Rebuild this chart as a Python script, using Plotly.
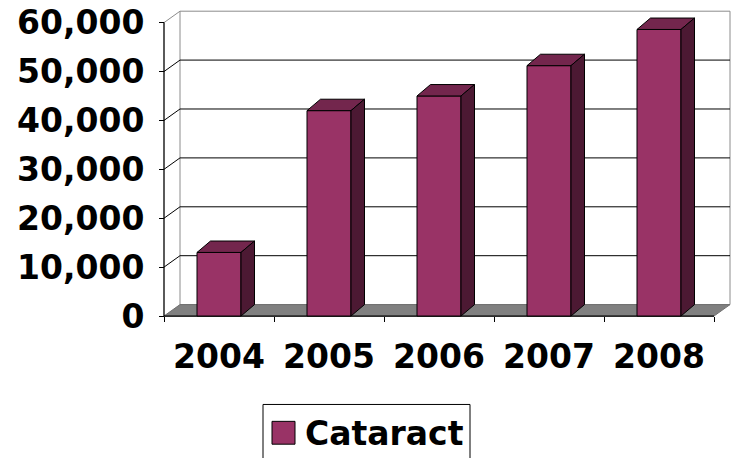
import plotly.graph_objects as go

# ---- data ----
years = ["2004", "2005", "2006", "2007", "2008"]
cataract = [13000, 42000, 45000, 51200, 58600]
y_ticks = [0, 10000, 20000, 30000, 40000, 50000, 60000]
series_name = "Cataract"

# ---- styling / geometry ----
W, H = 734, 458
FONT = "DejaVu Sans"
FS = 33
FRONT = "#993366"
TOP = "#73264D"
SIDE = "#4C1933"
FLOOR = "#808080"
WALL_EDGE = "#8C8C8C"

PX_PER_X = 110.0            # pixels per category
X0_PX = 164.0               # pixel of x=-0.5 (front left)
Y0_PX = 316.0               # pixel of y=0 (front)
Y60_PX = 20.7               # pixel of y=60000 (front)
PX_PER_Y = (Y0_PX - Y60_PX) / 60000.0

L, R_PX = 157.0, 731.0      # plot area left/right in px
T_PX, B_PX = 8.0, 320.0     # plot area top/bottom in px

xmin = -0.5 - (X0_PX - L) / PX_PER_X
xmax = -0.5 + (R_PX - X0_PX) / PX_PER_X
ymin = -(B_PX - Y0_PX) / PX_PER_Y
ymax = (Y0_PX - T_PX) / PX_PER_Y

n = len(years)
xs = list(range(n))
bar_w = 0.4
wdx = 16.0 / PX_PER_X       # wall depth (x)
wdy = 11.5 / PX_PER_Y       # wall depth (y)
bdx = 13.5 / PX_PER_X       # bar depth (x)
bdy = 11.5 / PX_PER_Y       # bar depth (y)
xl, xr = -0.5, n - 0.5

fig = go.Figure()

# front faces
fig.add_trace(go.Bar(
    x=xs, y=cataract, width=bar_w, base=0,
    marker=dict(color=FRONT, line=dict(color="black", width=1)),
    showlegend=False, hoverinfo="skip"))

# top and side faces
tx, ty, sx, sy = [], [], [], []
for xi, v in zip(xs, cataract):
    a, b = xi - bar_w / 2, xi + bar_w / 2
    tx += [a, b, b + bdx, a + bdx, a, None]
    ty += [v, v, v + bdy, v + bdy, v, None]
    sx += [b, b + bdx, b + bdx, b, b, None]
    sy += [0, bdy, v + bdy, v, 0, None]
fig.add_trace(go.Scatter(x=tx, y=ty, mode="lines", fill="toself", fillcolor=TOP,
                         line=dict(color="black", width=1), showlegend=False, hoverinfo="skip"))
fig.add_trace(go.Scatter(x=sx, y=sy, mode="lines", fill="toself", fillcolor=SIDE,
                         line=dict(color="black", width=1), showlegend=False, hoverinfo="skip"))

shapes = []
top_v = y_ticks[-1]
# back wall
shapes.append(dict(type="rect", xref="x", yref="y", x0=xl + wdx, x1=xr + wdx, y0=wdy, y1=top_v + wdy,
                   fillcolor="white", line=dict(color=WALL_EDGE, width=1), layer="below"))
# gridlines on back wall and side wall diagonals
for v in y_ticks[1:]:
    col = "black" if v < top_v else WALL_EDGE
    if v < top_v:
        shapes.append(dict(type="line", xref="x", yref="y", x0=xl + wdx, x1=xr + wdx, y0=v + wdy, y1=v + wdy,
                           line=dict(color="black", width=1), layer="below"))
    shapes.append(dict(type="line", xref="x", yref="y", x0=xl, x1=xl + wdx, y0=v, y1=v + wdy,
                       line=dict(color=col, width=1), layer="below"))
# floor
shapes.append(dict(type="path", xref="x", yref="y",
                   path=f"M{xl},0 L{xr},0 L{xr + wdx},{wdy} L{xl + wdx},{wdy} Z",
                   fillcolor=FLOOR, line=dict(color="#707070", width=1), layer="below"))
# front axes lines
shapes.append(dict(type="line", xref="x", yref="y", x0=xl, x1=xl, y0=0, y1=top_v,
                   line=dict(color="black", width=1.3), layer="below"))
shapes.append(dict(type="line", xref="x", yref="y", x0=xl, x1=xr, y0=0, y1=0,
                   line=dict(color="black", width=1.3), layer="below"))

# manual legend (paper coordinates computed from pixels)
pw, ph = R_PX - L, B_PX - T_PX
def px2paper_x(p): return (p - L) / pw
def px2paper_y(p): return (B_PX - p) / ph

shapes.append(dict(type="rect", xref="paper", yref="paper",
                   x0=px2paper_x(263), x1=px2paper_x(470), y0=px2paper_y(475), y1=px2paper_y(405),
                   fillcolor="white", line=dict(color="black", width=1)))
shapes.append(dict(type="rect", xref="paper", yref="paper",
                   x0=px2paper_x(272), x1=px2paper_x(295), y0=px2paper_y(445), y1=px2paper_y(422),
                   fillcolor=FRONT, line=dict(color="black", width=1)))
annotations = [dict(xref="paper", yref="paper", x=px2paper_x(303), y=px2paper_y(434),
                    xanchor="left", yanchor="middle", showarrow=False, text=f"<b>{series_name}</b>",
                    font=dict(family=FONT, size=FS, color="black"))]

fig.update_layout(
    width=W, height=H,
    margin=dict(l=L, r=W - R_PX, t=T_PX, b=H - B_PX, pad=0),
    paper_bgcolor="white", plot_bgcolor="white",
    showlegend=False,
    shapes=shapes, annotations=annotations,
    font=dict(family=FONT, size=FS, color="black"),
    xaxis=dict(range=[xmin, xmax], tickmode="array", tickvals=xs,
               ticktext=[f"<b>{y}</b>" for y in years], ticks="", showgrid=False,
               zeroline=False, showline=False, anchor="free",
               position=(0 - ymin) / (ymax - ymin), ticklabelstandoff=18,
               tickfont=dict(family=FONT, size=FS, color="black"),
               minor=dict(tickmode="array", tickvals=[i - 0.5 for i in range(n + 1)],
                          ticks="outside", ticklen=5, tickcolor="black", tickwidth=1, showgrid=False)),
    yaxis=dict(range=[ymin, ymax], tickmode="array", tickvals=y_ticks,
               ticktext=[f"<b>{v:,}</b>" for v in y_ticks], ticks="outside", ticklen=5,
               tickcolor="black", tickwidth=1, showgrid=False, zeroline=False, showline=False,
               anchor="free", position=(xl - xmin) / (xmax - xmin), ticklabelstandoff=8,
               tickfont=dict(family=FONT, size=FS, color="black")),
)

fig.write_html("out.html")
